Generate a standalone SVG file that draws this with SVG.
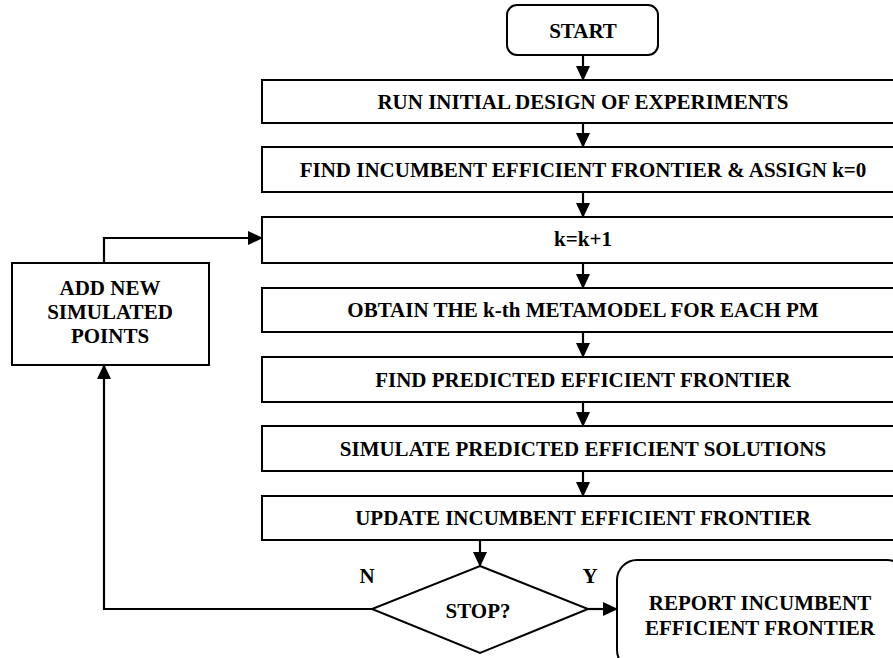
<svg xmlns="http://www.w3.org/2000/svg" width="893" height="658" viewBox="0 0 893 658">
<defs>
<marker id="ah" markerWidth="15" markerHeight="14" refX="14" refY="7" orient="auto" markerUnits="userSpaceOnUse">
<path d="M0,0 L15,7 L0,14 Z" fill="#000"/>
</marker>
<style>
.box{fill:#fff;stroke:#000;stroke-width:2}
.t{font-family:"Liberation Serif","Times New Roman",serif;font-weight:bold;font-size:21px;text-anchor:middle;fill:#000}
.c{fill:none;stroke:#000;stroke-width:2.2;marker-end:url(#ah)}
</style>
</defs>
<rect width="893" height="658" fill="#fff"/>
<g id="connectors">
<path class="c" d="M583,55 V80"/>
<path class="c" d="M583,123 V147"/>
<path class="c" d="M583,192 V217"/>
<path class="c" d="M583,263 V288"/>
<path class="c" d="M583,332 V357"/>
<path class="c" d="M583,402 V426"/>
<path class="c" d="M583,471 V496"/>
<path class="c" d="M480,540 V566"/>
<path class="c" d="M588,609 H617"/>
<path class="c" d="M372,609 H104 V365"/>
<path class="c" d="M104,263 V238 H262"/>
</g>
<g id="start"><rect class="box" x="507" y="5" width="151" height="50" rx="10"/><text class="t" x="583" y="38">START</text></g>
<g id="n1"><rect class="box" x="262" y="80" width="660" height="43"/><text class="t" x="583" y="109">RUN INITIAL DESIGN OF EXPERIMENTS</text></g>
<g id="n2"><rect class="box" x="262" y="147" width="660" height="45"/><text class="t" x="583" y="177">FIND INCUMBENT EFFICIENT FRONTIER &amp; ASSIGN k=0</text></g>
<g id="n3"><rect class="box" x="262" y="217" width="660" height="46"/><text class="t" x="583" y="246">k=k+1</text></g>
<g id="n4"><rect class="box" x="262" y="288" width="660" height="44"/><text class="t" x="583" y="317">OBTAIN THE k-th METAMODEL FOR EACH PM</text></g>
<g id="n5"><rect class="box" x="262" y="357" width="660" height="45"/><text class="t" x="583" y="387">FIND PREDICTED EFFICIENT FRONTIER</text></g>
<g id="n6"><rect class="box" x="262" y="426" width="660" height="45"/><text class="t" x="583" y="456">SIMULATE PREDICTED EFFICIENT SOLUTIONS</text></g>
<g id="n7"><rect class="box" x="262" y="496" width="660" height="44"/><text class="t" x="583" y="525">UPDATE INCUMBENT EFFICIENT FRONTIER</text></g>
<g id="add"><rect class="box" x="12" y="263" width="197" height="102"/><text class="t" x="110" y="295">ADD NEW</text><text class="t" x="110" y="319">SIMULATED</text><text class="t" x="110" y="343">POINTS</text></g>
<g id="stop"><path class="box" d="M480,566 L588,609 L480,653 L372,609 Z"/><text class="t" x="478" y="618">STOP?</text></g>
<g id="report"><rect class="box" x="617" y="560" width="290" height="110" rx="20"/><text class="t" x="760" y="610">REPORT INCUMBENT</text><text class="t" x="760" y="635">EFFICIENT FRONTIER</text></g>
<g id="labels"><text class="t" x="367" y="583">N</text><text class="t" x="590" y="583">Y</text></g>
</svg>
